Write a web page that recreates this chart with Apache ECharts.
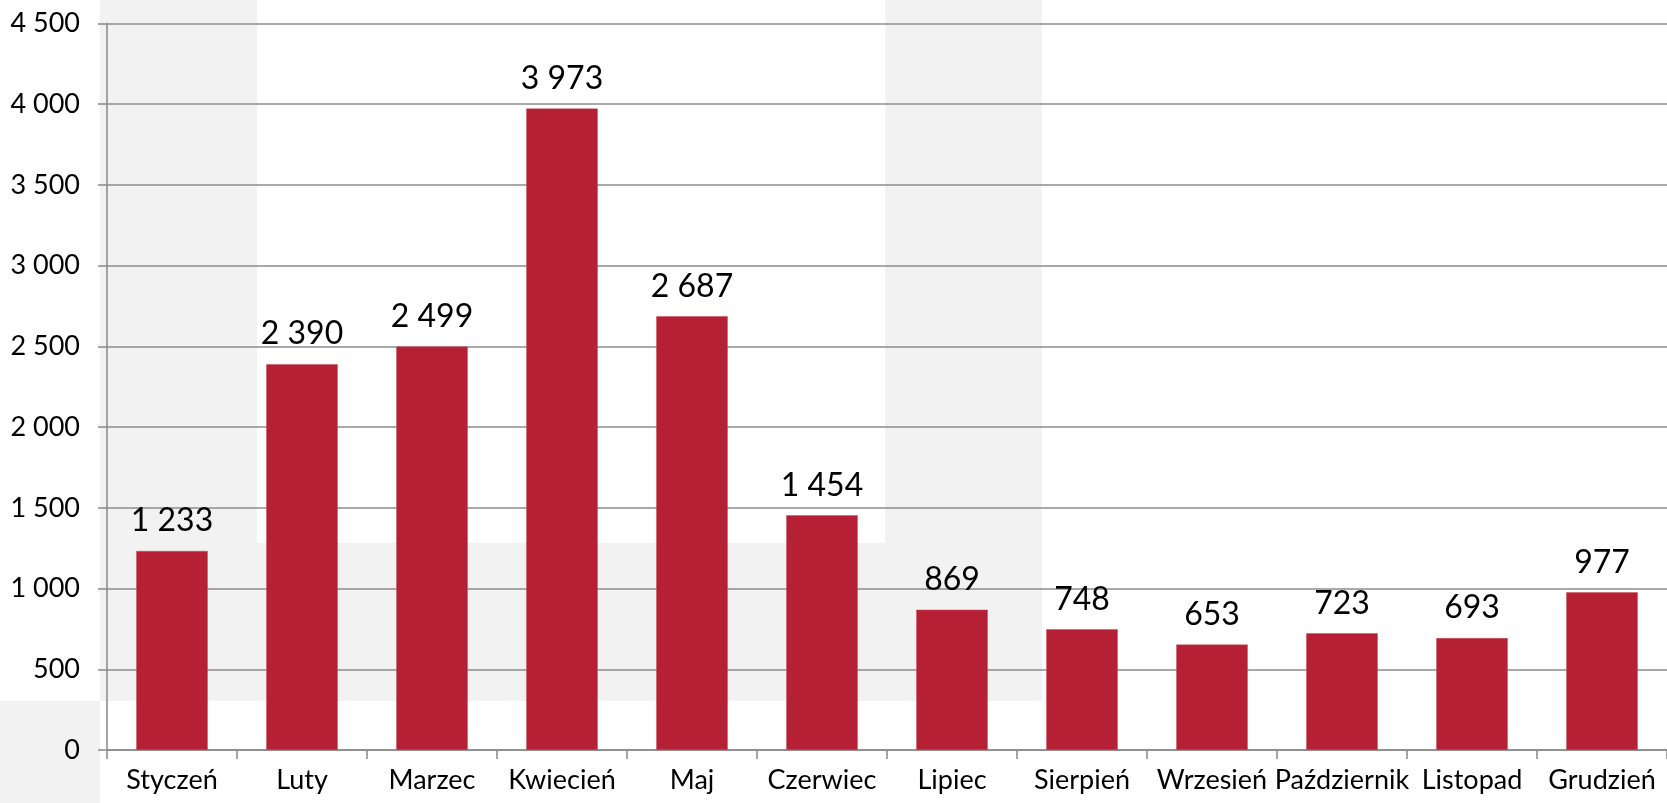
<!DOCTYPE html>
<html>
<head>
<meta charset="utf-8">
<script src="https://cdn.jsdelivr.net/npm/echarts@6/dist/echarts.min.js"></script>
<style>
html,body{margin:0;padding:0;background:#fff;}
#chart{width:1667px;height:803px;}
</style>
</head>
<body>
<div id="chart"></div>
<script>
const categories = ['Styczeń','Luty','Marzec','Kwiecień','Maj','Czerwiec','Lipiec','Sierpień','Wrzesień','Październik','Listopad','Grudzień'];
const values = [1233, 2390, 2499, 3973, 2687, 1454, 869, 748, 653, 723, 693, 977];
const yTicks = [0, 500, 1000, 1500, 2000, 2500, 3000, 3500, 4000, 4500];

function fmt(v){ return String(v).replace(/\B(?=(\d{3})+(?!\d))/g, ' '); }

const FONT = 'Lato, "Open Sans", sans-serif';
const chart = echarts.init(document.getElementById('chart'));
const bg = '#f2f2f2';
chart.setOption({
  animation: false,
  backgroundColor: '#ffffff',
  graphic: [
    {type:'rect', z:-10, silent:true, shape:{x:100,y:0,width:157,height:701}, style:{fill:bg}},
    {type:'rect', z:-10, silent:true, shape:{x:257,y:543,width:628,height:158}, style:{fill:bg}},
    {type:'rect', z:-10, silent:true, shape:{x:885,y:0,width:157,height:701}, style:{fill:bg}},
    {type:'rect', z:-10, silent:true, shape:{x:0,y:701,width:100,height:102}, style:{fill:bg}}
  ],
  grid: {left: 107, right: -10, top: 23.5, bottom: 53, containLabel: false},
  xAxis: {
    type: 'category',
    data: categories,
    axisLine: {show: true, lineStyle: {color: '#898989', width: 1.5}},
    axisTick: {show: true, length: 9, lineStyle: {color: '#898989', width: 1.5}},
    axisLabel: {color: '#000', fontSize: 27, fontFamily: FONT, margin: 17, interval: 0}
  },
  yAxis: {
    type: 'value',
    min: yTicks[0],
    max: yTicks[yTicks.length-1],
    interval: 500,
    axisLine: {show: true, lineStyle: {color: '#898989', width: 1.5}},
    axisTick: {show: true, length: 9, lineStyle: {color: '#898989', width: 1.5}},
    splitLine: {show: true, lineStyle: {color: '#8c8c8c', width: 1.5}},
    axisLabel: {color: '#000', fontSize: 27, fontFamily: FONT, margin: 27, formatter: v => fmt(v)}
  },
  series: [{
    type: 'bar',
    data: values,
    barCategoryGap: '45%',
    itemStyle: {color: '#b62034', borderColor: '#c9505f', borderWidth: 0.5},
    label: {show: true, position: 'top', distance: 14, color: '#000', fontSize: 32, fontFamily: FONT, formatter: p => fmt(p.value)}
  }]
});
</script>
</body>
</html>
